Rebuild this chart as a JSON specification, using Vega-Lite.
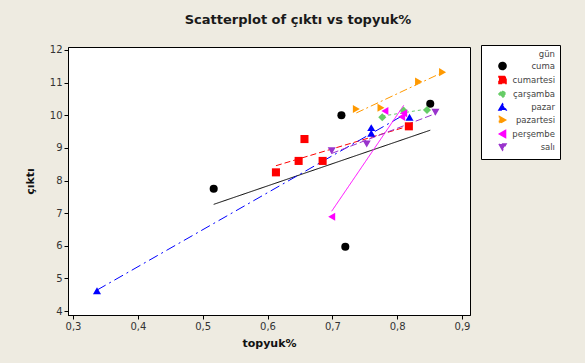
{
  "$schema": "https://vega.github.io/schema/vega-lite/v6.json",
  "autosize": "none",
  "width": 402,
  "height": 268,
  "padding": {"left": 68, "top": 47, "right": 115, "bottom": 48},
  "background": "#eeebe1",
  "title": {"text": "Scatterplot of çıktı vs topyuk%", "fontSize": 13, "fontWeight": "bold", "font": "DejaVu Sans", "color": "#1a1a1a", "anchor": "middle", "dx": 29, "offset": 18},
  "data": {"values": [
    {"gun": "cuma", "topyuk": 0.517, "cikti": 7.75},
    {"gun": "cuma", "topyuk": 0.714, "cikti": 10.0},
    {"gun": "cuma", "topyuk": 0.720, "cikti": 5.97},
    {"gun": "cuma", "topyuk": 0.851, "cikti": 10.35},
    {"gun": "cumartesi", "topyuk": 0.613, "cikti": 8.25},
    {"gun": "cumartesi", "topyuk": 0.648, "cikti": 8.6},
    {"gun": "cumartesi", "topyuk": 0.657, "cikti": 9.27},
    {"gun": "cumartesi", "topyuk": 0.685, "cikti": 8.6},
    {"gun": "cumartesi", "topyuk": 0.818, "cikti": 9.66},
    {"gun": "çarşamba", "topyuk": 0.777, "cikti": 9.94},
    {"gun": "çarşamba", "topyuk": 0.810, "cikti": 10.14},
    {"gun": "çarşamba", "topyuk": 0.846, "cikti": 10.16},
    {"gun": "pazar", "topyuk": 0.337, "cikti": 4.62},
    {"gun": "pazar", "topyuk": 0.760, "cikti": 9.62},
    {"gun": "pazar", "topyuk": 0.760, "cikti": 9.45},
    {"gun": "pazar", "topyuk": 0.819, "cikti": 9.94},
    {"gun": "pazartesi", "topyuk": 0.737, "cikti": 10.19},
    {"gun": "pazartesi", "topyuk": 0.775, "cikti": 10.23},
    {"gun": "pazartesi", "topyuk": 0.833, "cikti": 11.03},
    {"gun": "pazartesi", "topyuk": 0.870, "cikti": 11.32},
    {"gun": "perşembe", "topyuk": 0.699, "cikti": 6.89},
    {"gun": "perşembe", "topyuk": 0.781, "cikti": 10.13},
    {"gun": "perşembe", "topyuk": 0.810, "cikti": 10.06},
    {"gun": "perşembe", "topyuk": 0.807, "cikti": 9.95},
    {"gun": "salı", "topyuk": 0.699, "cikti": 8.91},
    {"gun": "salı", "topyuk": 0.753, "cikti": 9.12},
    {"gun": "salı", "topyuk": 0.859, "cikti": 10.09}
  ]},
  "encoding": {
    "x": {"field": "topyuk", "type": "quantitative", "title": "topyuk%",
      "scale": {"domain": [0.2923, 0.9123], "nice": false, "zero": false},
      "axis": {"values": [0.3, 0.4, 0.5, 0.6, 0.7, 0.8, 0.9], "labelExpr": "replace(format(datum.value, '.1f'), '.', ',')", "grid": false, "titlePadding": 6}},
    "y": {"field": "cikti", "type": "quantitative", "title": "çıktı",
      "scale": {"domain": [3.88, 12.09], "nice": false, "zero": false},
      "axis": {"values": [4, 5, 6, 7, 8, 9, 10, 11, 12], "grid": false, "titlePadding": 14}},
    "color": {"field": "gun", "type": "nominal", "title": "gün",
      "scale": {"domain": ["cuma", "cumartesi", "çarşamba", "pazar", "pazartesi", "perşembe", "salı"],
                "range": ["#000000", "#ff0000", "#66cc66", "#0000ff", "#ff9900", "#ff00ff", "#9933cc"]},
      "legend": {"orient": "none", "legendX": 413, "legendY": -2}}
  },
  "layer": [
    {
      "transform": [{"regression": "cikti", "on": "topyuk", "groupby": ["gun"]}],
      "mark": {"type": "line", "strokeWidth": 1},
      "encoding": {
        "strokeDash": {"field": "gun", "type": "nominal", "legend": null,
          "scale": {"domain": ["cuma", "cumartesi", "çarşamba", "pazar", "pazartesi", "perşembe", "salı"],
                    "range": [[1, 0], [6, 3], [3, 3], [10, 4, 2, 4], [8, 3, 2, 3], [1, 0], [7, 3]]}}
      }
    },
    {
      "mark": {"type": "point", "filled": true, "opacity": 1, "size": 65},
      "encoding": {
        "shape": {"field": "gun", "type": "nominal", "title": "gün",
          "scale": {"domain": ["cuma", "cumartesi", "çarşamba", "pazar", "pazartesi", "perşembe", "salı"],
                    "range": ["circle", "square", "diamond", "triangle-up", "triangle-right", "triangle-left", "triangle-down"]},
          "legend": {"orient": "none", "legendX": 413, "legendY": -2}}
      }
    }
  ],
  "config": {
    "view": {"fill": "#ffffff", "stroke": "#000000", "strokeWidth": 1},
    "axis": {"labelFont": "DejaVu Sans", "labelFontSize": 10, "labelColor": "#333333", "titleFont": "DejaVu Sans", "titleFontSize": 11, "titleFontWeight": "bold", "titleColor": "#111111", "domainColor": "#000000", "tickColor": "#000000", "tickSize": 4},
    "legend": {"padding": 5, "strokeColor": "#000000", "fillColor": "#ffffff",
      "titleFont": "DejaVu Sans", "titleFontSize": 8.5, "titleFontWeight": "normal", "titleColor": "#444444", "titleAnchor": "end", "titlePadding": 3,
      "labelFont": "DejaVu Sans", "labelFontSize": 8.5, "labelColor": "#444444", "labelAlign": "right", "labelOffset": 48,
      "symbolSize": 50, "symbolOffset": 12, "rowPadding": -1}
  }
}
